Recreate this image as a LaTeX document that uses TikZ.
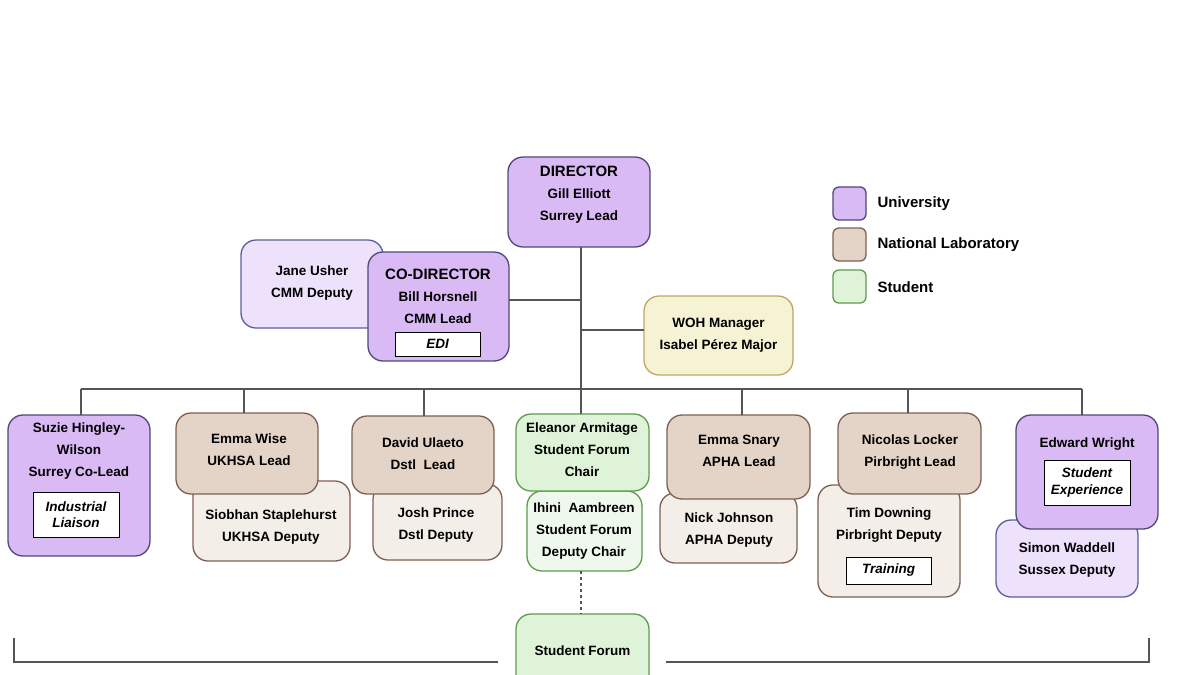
\documentclass[tikz,border=0pt]{standalone}
\usepackage{fontspec}
\setmainfont{Liberation Sans}
\usepackage{xcolor}
\definecolor{uniFill}{HTML}{D9BAF5}
\definecolor{uniDraw}{HTML}{4C4A78}
\definecolor{uniLight}{HTML}{EEE1FB}
\definecolor{uniLightDraw}{HTML}{5C5F9C}
\definecolor{labFill}{HTML}{E4D4C7}
\definecolor{labDraw}{HTML}{7D6052}
\definecolor{labLight}{HTML}{F3EEE8}
\definecolor{stuFill}{HTML}{DFF3D9}
\definecolor{stuDraw}{HTML}{5E9B4E}
\definecolor{stuLight}{HTML}{EFF8EC}
\definecolor{wohFill}{HTML}{F6F3D4}
\definecolor{wohDraw}{HTML}{BAA95F}
\definecolor{lineGrey}{HTML}{555555}

\begin{document}
\begin{tikzpicture}[x=1pt, y=-1pt,
  every node/.style={font=\fontsize{13.5}{22}\selectfont\bfseries},
  box/.style={draw, rounded corners=15pt, line width=1.3pt, inner sep=0pt, outer sep=0pt},
  uni/.style={box, fill=uniFill, draw=uniDraw},
  unidep/.style={box, fill=uniLight, draw=uniLightDraw},
  lab/.style={box, fill=labFill, draw=labDraw},
  labdep/.style={box, fill=labLight, draw=labDraw},
  stu/.style={box, fill=stuFill, draw=stuDraw},
  studep/.style={box, fill=stuLight, draw=stuDraw},
  woh/.style={box, fill=wohFill, draw=wohDraw},
  txt/.style={align=center, inner sep=0pt},
  head/.style={font=\fontsize{15}{22}\selectfont\bfseries},
  role/.style={draw=black, fill=white, line width=1pt, inner sep=0pt, align=center,
               font=\fontsize{13.5}{16.5}\selectfont\bfseries\itshape},
  conn/.style={draw=lineGrey, line width=1.6pt},
  key/.style={draw, rounded corners=6pt, line width=1.3pt, minimum size=33pt, inner sep=0pt}
]
\useasboundingbox (0,0) rectangle (1200,675);
\clip (0,0) rectangle (1200,675);

% top of the chart
\node[uni, minimum width=142, minimum height=90] (dir) at (579,202) {};
\node[txt] (dirT) at (579,195) {{\fontsize{15}{22}\selectfont DIRECTOR}\\Gill Elliott\\Surrey Lead};

\node[unidep, minimum width=142, minimum height=88] (jane) at (312,284) {};
\node[txt] (janeT) at (312,283) {Jane Usher\\CMM Deputy};
\node[uni, minimum width=141, minimum height=109] (codir) at (438.5,306.5) {};
\node[txt] (codirT) at (438,296) {{\fontsize{15}{22}\selectfont CO-DIRECTOR}\\Bill Horsnell\\CMM Lead};
\node[role, minimum width=85, minimum height=24] (edi) at (437.5,344) {EDI};

\node[woh, minimum width=149, minimum height=79] (wohm) at (718.5,335.5) {};
\node[txt] (wohT) at (718.5,335.5) {WOH Manager\\Isabel Pérez Major};

% legend
\node[key, fill=uniFill, draw=uniDraw] (kUni) at (849.5,203.5) {};
\node[key, fill=labFill, draw=labDraw] (kLab) at (849.5,244.5) {};
\node[key, fill=stuFill, draw=stuDraw] (kStu) at (849.5,286.5) {};
\node[head, anchor=west] (kUniT) at (874,203.5) {University};
\node[head, anchor=west] (kLabT) at (874,244.5) {National Laboratory};
\node[head, anchor=west] (kStuT) at (874,287.5) {Student};

% leads and deputies
\node[uni, minimum width=142, minimum height=141] (suzie) at (79,485.5) {};
\node[txt] (suzieT) at (79,451) {Suzie Hingley-\\Wilson\\Surrey Co-Lead};
\node[role, minimum width=86, minimum height=45] (liaison) at (76,514.5) {Industrial\\Liaison};

\node[labdep, minimum width=157, minimum height=80] (siobhan) at (271.5,521) {};
\node[txt] (siobhanT) at (271,527) {Siobhan Staplehurst\\UKHSA Deputy};
\node[lab, minimum width=142, minimum height=81] (ewise) at (247,453.5) {};
\node[txt] (ewiseT) at (249,450) {Emma Wise\\UKHSA Lead};

\node[labdep, minimum width=129, minimum height=76] (josh) at (437.5,522) {};
\node[txt] (joshT) at (436,525) {Josh Prince\\Dstl Deputy};
\node[lab, minimum width=142, minimum height=78] (david) at (423,455) {};
\node[txt] (davidT) at (423,453.5) {David Ulaeto\\Dstl~~Lead};

\node[studep, minimum width=115, minimum height=80] (ihini) at (584.5,531) {};
\node[txt] (ihiniT) at (584,531) {Ihini~~Aambreen\\Student Forum\\Deputy Chair};
\node[stu, minimum width=133, minimum height=77] (eleanor) at (582.5,452.5) {};
\node[txt] (eleanorT) at (582,450) {Eleanor Armitage\\Student Forum\\Chair};

\node[labdep, minimum width=137, minimum height=70] (nick) at (728.5,528) {};
\node[txt] (nickT) at (729,530) {Nick Johnson\\APHA Deputy};
\node[lab, minimum width=143, minimum height=84] (snary) at (738.5,457) {};
\node[txt] (snaryT) at (739,451) {Emma Snary\\APHA Lead};

\node[labdep, minimum width=142, minimum height=112] (tim) at (889,541) {};
\node[txt] (timT) at (889,525) {Tim Downing\\Pirbright Deputy};
\node[role, minimum width=85, minimum height=27] (training) at (888.5,570.5) {Training};
\node[lab, minimum width=143, minimum height=81] (nicolas) at (909.5,453.5) {};
\node[txt] (nicolasT) at (910,452) {Nicolas Locker\\Pirbright Lead};

\node[unidep, minimum width=142, minimum height=77] (simon) at (1067,558.5) {};
\node[txt] (simonT) at (1067,560) {Simon Waddell\\Sussex Deputy};
\node[uni, minimum width=142, minimum height=114] (edward) at (1087,472) {};
\node[txt] (edwardT) at (1087,444) {Edward Wright};
\node[role, minimum width=86, minimum height=45] (stuexp) at (1087,482.5) {Student\\Experience};

\node[stu, minimum width=133, minimum height=86] (forum) at (582.5,657) {};
\node[txt] (forumT) at (582.5,651) {Student Forum};

% connectors
\coordinate (busL) at (81,389);
\coordinate (busR) at (1082,389);
\draw[conn] ([xshift=2pt]dir.south) -- ([xshift=2pt]dir.south |- busL);
\draw[conn] ([yshift=6.5pt]codir.east) -- ([yshift=6.5pt,xshift=2pt]codir.east -| dir.south);
\draw[conn] ([yshift=5.5pt]wohm.west) -- ([yshift=5.5pt,xshift=2pt]wohm.west -| dir.south);
\draw[conn] (busL) -- (busR);
\foreach \n/\dx in {suzie/2, ewise/-3, david/1, eleanor/-1.5, snary/3.5, nicolas/-1.5, edward/-5}
  \draw[conn] ([xshift=\dx pt]\n.north) -- ([xshift=\dx pt]\n.north |- busL);
\draw[conn, dashed, line width=1.2pt] ([xshift=-1.5pt]forum.north |- ihini.south) -- ([xshift=-1.5pt]forum.north);

% bracket under the chart
\coordinate (brL) at (14,638);
\coordinate (brR) at (1149,638);
\draw[conn] (brL) -- (14,662) -- ([xshift=-18pt]forum.west |- 0,662);
\draw[conn] ([xshift=17pt]forum.east |- 0,662) -- (1149,662) -- (brR);
\end{tikzpicture}
\end{document}
